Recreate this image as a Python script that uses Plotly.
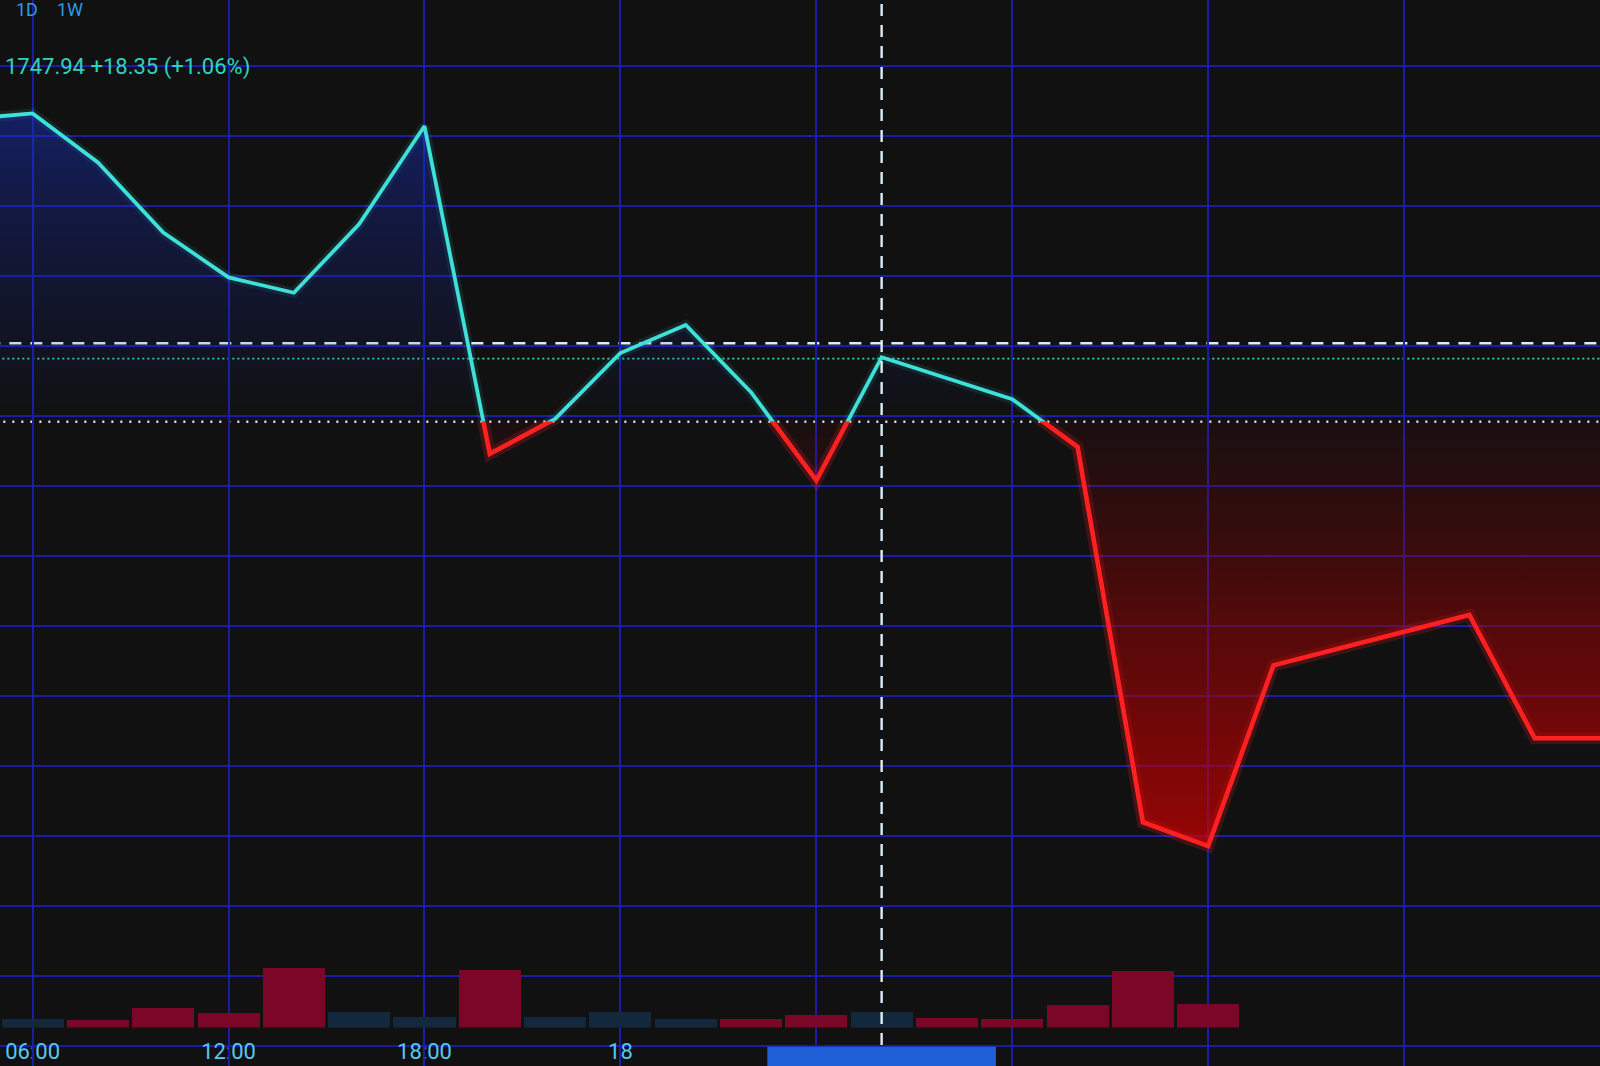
import plotly.graph_objects as go

# ---------------- data ----------------
PRICE_TIMES = [
    "2024-01-17 04:00", "2024-01-17 06:00", "2024-01-17 08:00", "2024-01-17 10:00",
    "2024-01-17 12:00", "2024-01-17 14:00", "2024-01-17 16:00", "2024-01-17 18:00",
    "2024-01-17 20:00", "2024-01-17 22:00", "2024-01-18 00:00", "2024-01-18 02:00",
    "2024-01-18 04:00", "2024-01-18 06:00", "2024-01-18 08:00", "2024-01-18 12:00",
    "2024-01-18 14:00", "2024-01-18 16:00", "2024-01-18 18:00", "2024-01-18 20:00",
    "2024-01-19 02:00", "2024-01-19 04:00", "2024-01-19 06:00",
]
PRICES = [
    1751.2, 1751.6, 1748.1, 1743.1,
    1739.9, 1738.8, 1743.7, 1750.7,
    1727.3, 1729.8, 1734.5, 1736.5,
    1731.7, 1725.4, 1734.2, 1731.2,
    1727.8, 1701.0, 1699.3, 1712.2,
    1715.8, 1707.0, 1707.0,
]
PREV_CLOSE = 1729.59        # white dotted baseline
LAST_PRICE = 1734.1         # teal dotted line
CROSSHAIR_PRICE = 1735.2    # white dashed horizontal
CROSSHAIR_TIME = "2024-01-18 08:00"

VOLUME_TIMES = [
    "2024-01-17 04:00", "2024-01-17 06:00", "2024-01-17 08:00", "2024-01-17 10:00",
    "2024-01-17 12:00", "2024-01-17 14:00", "2024-01-17 16:00", "2024-01-17 18:00",
    "2024-01-17 20:00", "2024-01-17 22:00", "2024-01-18 00:00", "2024-01-18 02:00",
    "2024-01-18 04:00", "2024-01-18 06:00", "2024-01-18 08:00", "2024-01-18 10:00",
    "2024-01-18 12:00", "2024-01-18 14:00", "2024-01-18 16:00", "2024-01-18 18:00",
]
VOLUMES = [70, 80, 70, 190, 140, 590, 150, 100, 570, 100,
           150, 80, 80, 120, 150, 90, 80, 220, 560, 230]
VOLUME_DIRECTION = ["down", "up", "down", "down", "down", "down", "up", "up", "down", "up",
                    "up", "up", "down", "down", "up", "down", "down", "down", "down", "down"]

TICK_VALS = ["2024-01-17 06:00", "2024-01-17 12:00", "2024-01-17 18:00", "2024-01-18 00:00",
             "2024-01-18 06:00", "2024-01-18 12:00", "2024-01-18 18:00", "2024-01-19 00:00"]
TICK_TEXT = ["06:00", "12:00", "18:00", "18", "", "", "", ""]

HEADER = "1747.94 +18.35 (+1.06%)"
INTERVALS = ["1D", "1W"]

# ---------------- styling / layout constants ----------------
BG = "#111112"
GRID = "#1c1cab"
CYAN = "#3fe0d8"
RED = "#ff2121"
X_RANGE = ["2024-01-17 05:00", "2024-01-19 06:00"]
Y_MIN, Y_MAX = 1683.6, 1759.7
SPLIT = (PREV_CLOSE - Y_MIN) / (Y_MAX - Y_MIN)
FONT = "Roboto, 'Noto Sans', sans-serif"

fig = go.Figure()

# main price axis (grid + reference lines)
n = len(PRICE_TIMES)
fig.add_trace(go.Scatter(x=PRICE_TIMES, y=[PREV_CLOSE] * n, mode="lines",
                         line=dict(color="#e6e6e6", width=2.4, dash="2px,7px"),
                         xaxis="x", yaxis="y", hoverinfo="skip"))
fig.add_trace(go.Scatter(x=PRICE_TIMES, y=[LAST_PRICE] * n, mode="lines",
                         line=dict(color="#37d6bd", width=1.8, dash="2px,3px"),
                         xaxis="x", yaxis="y", hoverinfo="skip"))
fig.add_trace(go.Scatter(x=PRICE_TIMES, y=[CROSSHAIR_PRICE] * n, mode="lines",
                         line=dict(color="#d9eef9", width=2.4, dash="12px,9px"),
                         xaxis="x", yaxis="y", hoverinfo="skip"))

# above-baseline part (clipped to upper domain)
fig.add_trace(go.Scatter(x=PRICE_TIMES, y=PRICES, mode="lines",
                         line=dict(color="rgba(63,224,216,0.10)", width=10),
                         xaxis="x", yaxis="y2", hoverinfo="skip"))
fig.add_trace(go.Scatter(x=PRICE_TIMES, y=PRICES, mode="lines",
                         line=dict(color=CYAN, width=3.8),
                         fill="tozeroy",
                         fillgradient=dict(type="vertical", start=PREV_CLOSE, stop=Y_MAX,
                                           colorscale=[[0, "rgba(20,40,170,0.0)"],
                                                       [0.5, "rgba(22,45,185,0.28)"],
                                                       [1, "rgba(28,55,210,0.65)"]]),
                         xaxis="x", yaxis="y2"))

# below-baseline part (clipped to lower domain)
fig.add_trace(go.Scatter(x=PRICE_TIMES, y=PRICES, mode="lines",
                         line=dict(color="rgba(255,33,33,0.20)", width=12),
                         xaxis="x", yaxis="y3", hoverinfo="skip"))
fig.add_trace(go.Scatter(x=PRICE_TIMES, y=[PREV_CLOSE] * n, mode="lines",
                         line=dict(color="rgba(0,0,0,0)", width=0),
                         xaxis="x", yaxis="y3", hoverinfo="skip"))
fig.add_trace(go.Scatter(x=PRICE_TIMES, y=PRICES, mode="lines",
                         line=dict(color=RED, width=4.6),
                         fill="tonexty",
                         fillgradient=dict(type="vertical", start=min(PRICES), stop=PREV_CLOSE,
                                           colorscale=[[0, "rgba(205,0,0,0.72)"],
                                                       [0.55, "rgba(160,0,0,0.45)"],
                                                       [1, "rgba(110,0,0,0.10)"]]),
                         xaxis="x", yaxis="y3"))

# volume bars
vol_colors = ["#7c0628" if d == "down" else "#13283d" for d in VOLUME_DIRECTION]
fig.add_trace(go.Bar(x=VOLUME_TIMES, y=VOLUMES, marker=dict(color=vol_colors, line=dict(width=0)),
                     width=1.9 * 3600 * 1000, xaxis="x", yaxis="y4", hoverinfo="skip"))

# crosshair vertical + its time-axis label box
fig.add_shape(type="line", xref="x", yref="paper", x0=CROSSHAIR_TIME, x1=CROSSHAIR_TIME,
              y0=0, y1=1, line=dict(color="#dcecf6", width=2.4, dash="12px,9px"), layer="above")
fig.add_shape(type="rect", xref="x", yref="paper",
              x0="2024-01-18 04:30", x1="2024-01-18 11:30", y0=0, y1=0.018,
              fillcolor="#1f5fd6", line=dict(width=0), layer="above")

# header texts
fig.add_annotation(text=HEADER, xref="paper", yref="paper", x=0.002, y=0.937,
                   xanchor="left", yanchor="middle", showarrow=False,
                   font=dict(family=FONT, size=22, color="#2ed3bf"))
for i, lab in enumerate(INTERVALS):
    fig.add_annotation(text=lab, xref="paper", yref="paper", x=0.017 + i * 0.027, y=0.991,
                       xanchor="center", yanchor="middle", showarrow=False,
                       font=dict(family=FONT, size=18, color="#2a9be8"))

axis_off = dict(visible=False, showgrid=False, zeroline=False, fixedrange=True, anchor="x")
fig.update_layout(
    width=1600, height=1066,
    margin=dict(l=0, r=0, t=0, b=0),
    paper_bgcolor=BG, plot_bgcolor="rgba(0,0,0,0)",
    showlegend=False,
    xaxis=dict(type="date", range=X_RANGE, tickvals=TICK_VALS, ticktext=TICK_TEXT,
               showgrid=True, gridcolor=GRID, gridwidth=1.6, zeroline=False, showline=False,
               ticks="", ticklabelposition="inside", ticklabeloverflow="allow", anchor="y",
               tickfont=dict(family=FONT, size=22, color="#56c8f2"), fixedrange=True),
    yaxis=dict(range=[Y_MIN, Y_MAX], domain=[0, 1], tick0=1730, dtick=5,
               showgrid=True, gridcolor=GRID, gridwidth=1.6, zeroline=False,
               showticklabels=False, ticks="", anchor="x", fixedrange=True),
    yaxis2=dict(range=[PREV_CLOSE, Y_MAX], domain=[SPLIT, 1], **axis_off),
    yaxis3=dict(range=[Y_MIN, PREV_CLOSE], domain=[0, SPLIT], **axis_off),
    yaxis4=dict(range=[0, 1200], domain=[0.036, 0.15], **axis_off),
    bargap=0,
)

fig.write_html("out.html", config={"displayModeBar": False},
               post_script="document.body.style.margin='0';"
                           "document.body.style.background='" + BG + "';")
